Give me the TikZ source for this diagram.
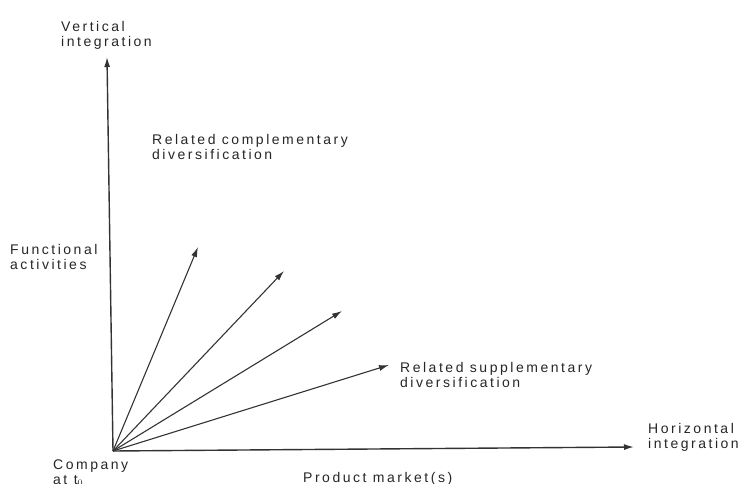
\documentclass[tikz,border=0pt]{standalone}
\usepackage{fontspec}
\setmainfont[LetterSpace=18]{Liberation Sans}
\usetikzlibrary{arrows.meta}
\begin{document}
\begin{tikzpicture}[x=1pt,y=-1pt,
  lbl/.style={anchor=base west,inner sep=0pt,align=left,
    font=\fontsize{14}{15}\selectfont,text=black!85},
  axis/.style={draw=black!80,line width=1.4pt,-{Latex[length=10pt,width=6pt]}},
  ray/.style={draw=black!80,line width=1.1pt,-{Latex[length=10pt,width=6pt]}}]
\useasboundingbox (0,0) rectangle (742,484);
\begin{scope}
\clip (0,0) rectangle (742,484);
% origin and axis ends
\coordinate (O) at (113,451);
\coordinate (V) at (107,57);
\coordinate (H) at (634,447);
% diversification rays
\coordinate (A1) at (198,247);
\coordinate (A2) at (284,271);
\coordinate (A3) at (342,311);
\coordinate (A4) at (389,365);

\draw[axis] (O) -- (V);
\draw[axis] (O) -- (H);
\draw[ray] (O) -- (A1);
\draw[ray] (O) -- (A2);
\draw[ray] (O) -- (A3);
\draw[ray] (O) -- (A4);

% two-line labels: the base anchor sits on the second line
\node[lbl] (vert) at (61,47) {Vertical\\integration};
\node[lbl] (comp) at (152,160) {Related complementary\\diversification};
\node[lbl] (func) at (10,269) {Functional\\activities};
\node[lbl] (supp) at (400,387) {Related supplementary\\diversification};
\node[lbl] (horiz) at (648,448) {Horizontal\\integration};
\node[lbl] (comp0) at (53,484) {Company\\at t$_0$};
\node[lbl] (prod) at (303,482) {Product market(s)};
\end{scope}
\end{tikzpicture}
\end{document}
